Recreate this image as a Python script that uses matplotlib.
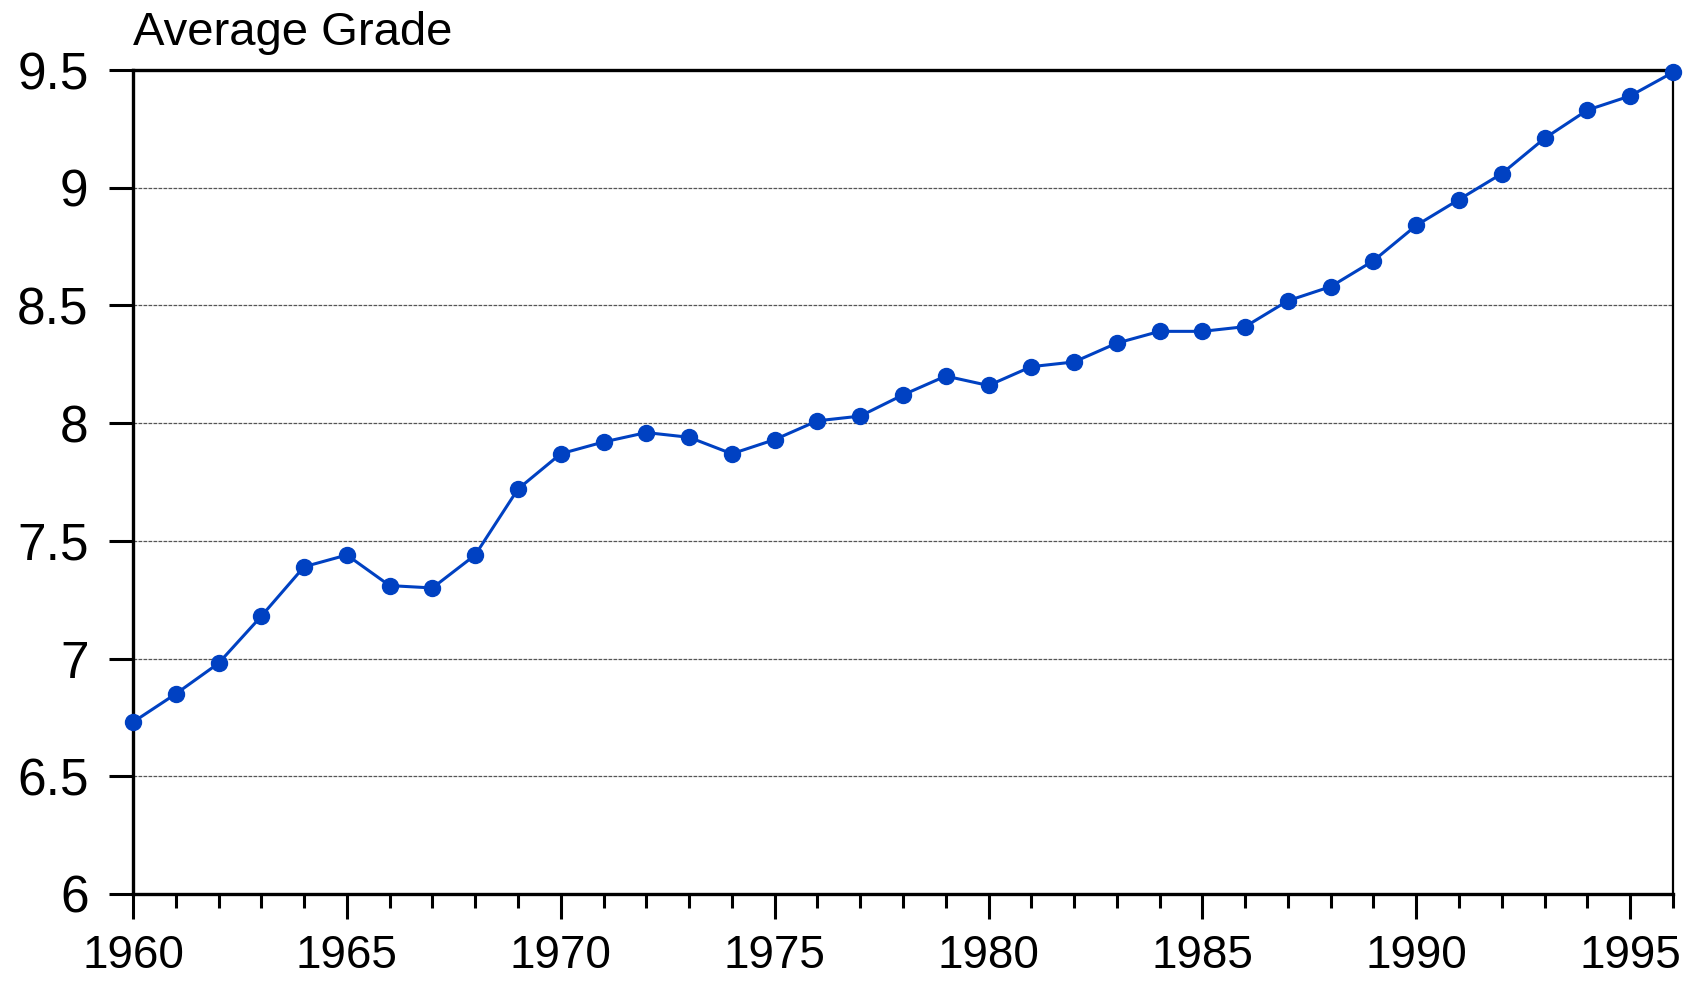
import numpy as np
import matplotlib
matplotlib.use("Agg")
import matplotlib.pyplot as plt
from matplotlib.ticker import MultipleLocator, FormatStrFormatter

plt.rcParams['font.family'] = ['Liberation Sans', 'DejaVu Sans']

# average grade per year
years = list(range(1960, 1997))
grades = [6.73, 6.85, 6.98, 7.18, 7.39, 7.44, 7.31, 7.30, 7.44, 7.72,
          7.87, 7.92, 7.96, 7.94, 7.87, 7.93, 8.01, 8.03, 8.12, 8.20,
          8.16, 8.24, 8.26, 8.34, 8.39, 8.39, 8.41, 8.52, 8.58, 8.69,
          8.84, 8.95, 9.06, 9.21, 9.33, 9.39, 9.49]
y_ticks = [6, 6.5, 7, 7.5, 8, 8.5, 9, 9.5]
x_ticks = [1960, 1965, 1970, 1975, 1980, 1985, 1990, 1995]

fig = plt.figure(figsize=(16.96, 9.81), dpi=100)
ax = fig.add_axes([0.0784, 0.0887, 0.9080, 0.8399])

ax.plot(years, grades, color='#0041C2', lw=2.2, marker='o', markersize=11.5,
        clip_on=False, zorder=3)

ax.set_xlim(1960, 1996)
ax.set_ylim(6, 9.5)

ax.set_xticks(x_ticks)
ax.xaxis.set_minor_locator(MultipleLocator(1))
ax.set_yticks(y_ticks)
ax.yaxis.set_major_formatter(FormatStrFormatter('%g'))

# dashed grid lines inside the plot
for v in y_ticks[1:-1]:
    ax.axhline(v, color='#555555', lw=0.9, ls=(0, (3, 1)), zorder=1)

for s in ax.spines.values():
    s.set_linewidth(2.4)
    s.set_color('black')
ax.spines['right'].set_linewidth(1.6)

ax.tick_params(axis='x', which='major', direction='out', length=18, width=2.2,
               labelsize=33, pad=11)
ax.tick_params(axis='x', which='minor', direction='out', length=10, width=2.2)
ax.tick_params(axis='y', which='major', direction='out', length=17, width=2.2,
               labelsize=37, pad=15)

ax.set_title('Average Grade', loc='left', fontsize=34, pad=18)

fig.savefig('out.png', dpi=100)
